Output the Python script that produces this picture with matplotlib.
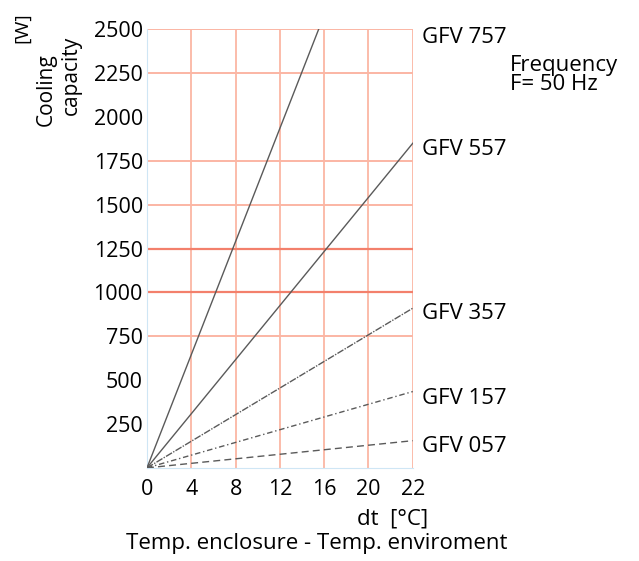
import matplotlib
matplotlib.use('Agg')
import matplotlib.pyplot as plt

plt.rcParams['font.family'] = ['Open Sans', 'DejaVu Sans']
plt.rcParams['font.weight'] = 'medium'

# the dt axis of the original is evenly spaced by label, so 22 sits one step after 20
x_labels = ['0', '4', '8', '12', '16', '20', '22']
x_pos = list(range(len(x_labels)))

models = ['GFV 757', 'GFV 557', 'GFV 357', 'GFV 157', 'GFV 057']
cap_at_22 = [3870, 1850, 910, 435, 155]       # W at the right edge (dt = 22)
label_y = [2455, 1815, 880, 395, 120]
styles = ['-', '-', (0, (5, 1, 1, 1)), (0, (4, 2, 1, 2)), (0, (5, 3))]

y_ticks = [250, 500, 750, 1000, 1250, 1500, 1750, 2000, 2250, 2500]
light_rows = [750, 1500, 1750, 2250, 2500]
strong_rows = [1000, 1250]

fig = plt.figure(figsize=(6.39, 5.61), dpi=100)
ax = fig.add_axes([0.230, 0.166, 0.416, 0.782])

for x in x_pos[1:]:
    ax.axvline(x, color='#fbbcaa', lw=1.4, zorder=1)
for y in light_rows:
    ax.axhline(y, color='#fbb6a4', lw=1.4, zorder=1)
for y in strong_rows:
    ax.axhline(y, color='#f3806c', lw=1.6, zorder=1)

for name, c, ls in zip(models, cap_at_22, styles):
    ax.plot([x_pos[0], x_pos[-1]], [0, c], color='#5a5a5a', lw=1.0, ls=ls, zorder=3)

ax.set_xlim(x_pos[0], x_pos[-1])
ax.set_ylim(0, 2500)
ax.set_xticks(x_pos)
ax.set_xticklabels(x_labels)
ax.set_yticks(y_ticks)
ax.tick_params(axis='y', length=0, labelsize=15.5, pad=3)
ax.tick_params(axis='x', length=0, labelsize=15.5, pad=8)
for s in ['top', 'right']:
    ax.spines[s].set_visible(False)
ax.spines['left'].set_color('#cfe6f5')
ax.spines['bottom'].set_color('#cfe6f5')

for name, y in zip(models, label_y):
    ax.text(x_pos[-1] + 0.2, y, name, fontsize=16, va='center', ha='left', clip_on=False)

fig.text(0.798, 0.866, 'Frequency\nF= 50 Hz', fontsize=16, va='center', ha='left',
         linespacing=0.9)
fig.text(0.072, 0.840, 'Cooling', fontsize=15, rotation=90, ha='center', va='center')
fig.text(0.111, 0.866, 'capacity', fontsize=15, rotation=90, ha='center', va='center')
fig.text(0.034, 0.951, '[W]', fontsize=14, rotation=90, ha='center', va='center')
fig.text(0.670, 0.074, 'dt  [°C]', fontsize=16, ha='right', va='center')
fig.text(0.197, 0.032, 'Temp. enclosure - Temp. enviroment', fontsize=16, ha='left',
         va='center')

fig.savefig('out.png', dpi=100)
